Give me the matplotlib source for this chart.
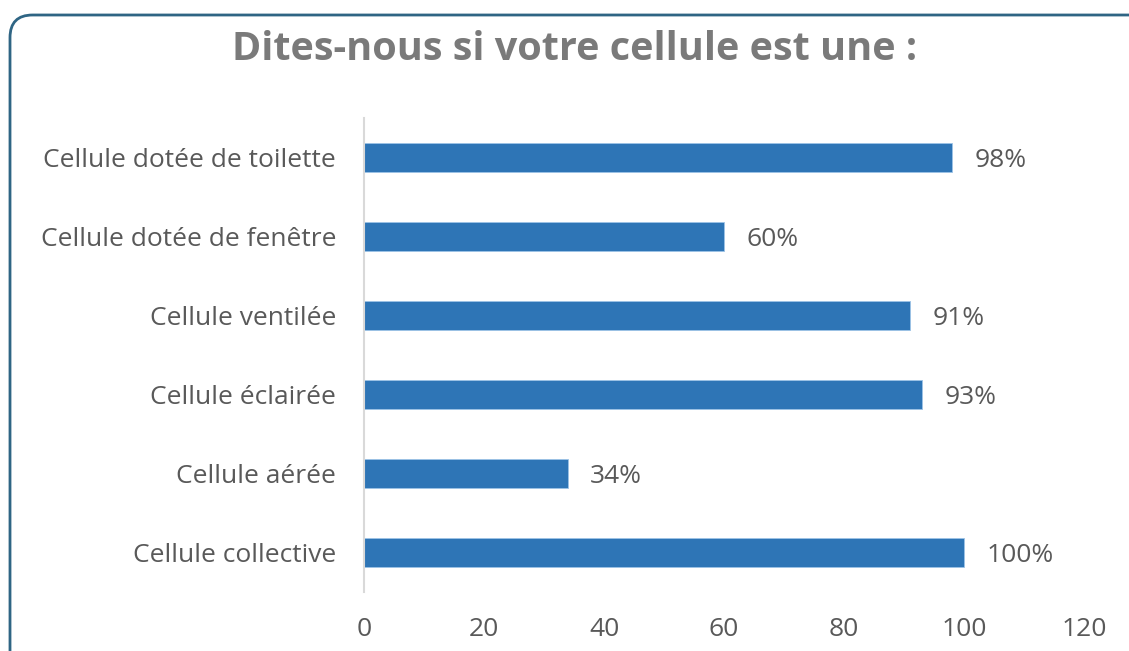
import matplotlib.pyplot as plt
from matplotlib.patches import FancyBboxPatch

# données
categories = ['Cellule collective', 'Cellule aérée', 'Cellule éclairée',
              'Cellule ventilée', 'Cellule dotée de fenêtre', 'Cellule dotée de toilette']
valeurs = [100, 34, 93, 91, 60, 98]
xticks = [0, 20, 40, 60, 80, 100, 120]

plt.rcParams['font.family'] = ['Open Sans', 'DejaVu Sans']

fig = plt.figure(figsize=(11.29, 6.51), dpi=100)

# cadre arrondi
cadre = FancyBboxPatch((10 / 1129, -0.05), 1.2, (651 - 15) / 651 + 0.05,
                       boxstyle='round,pad=0,rounding_size=0.02',
                       transform=fig.transFigure, facecolor='none',
                       edgecolor='#2f6584', linewidth=2, mutation_aspect=1129 / 651,
                       zorder=-1)
fig.patches.append(cadre)

ax = fig.add_axes([364 / 1129, 59 / 651, 720 / 1129, 474 / 651])
ax.set_facecolor('none')

ypos = range(len(categories))
ax.barh(ypos, valeurs, height=0.36, color='#2E75B6', edgecolor='#9dc3e6', linewidth=0.6)

for y, v in zip(ypos, valeurs):
    ax.annotate(f'{v}%', xy=(v, y), xytext=(16, 0), textcoords='offset points',
                va='center_baseline', ha='left', fontsize=19, color='#595959')

ax.set_xlim(0, 120)
ax.set_ylim(-0.5, len(categories) - 0.5)
ax.set_xticks(xticks)
ax.set_yticks(list(ypos))
ax.set_yticklabels(categories)
ax.tick_params(axis='both', length=0, labelsize=19, labelcolor='#595959')
ax.tick_params(axis='y', pad=20)
ax.tick_params(axis='x', pad=18)

for s in ['top', 'right', 'bottom']:
    ax.spines[s].set_visible(False)
ax.spines['left'].set_color('#d9d9d9')
ax.spines['left'].set_linewidth(1.5)

fig.text(575 / 1129, 1 - 50 / 651, 'Dites-nous si votre cellule est une :',
         ha='center', va='center', fontsize=28.5, fontweight='bold', color='#7a7a7a')

fig.savefig('out.png', dpi=100)
